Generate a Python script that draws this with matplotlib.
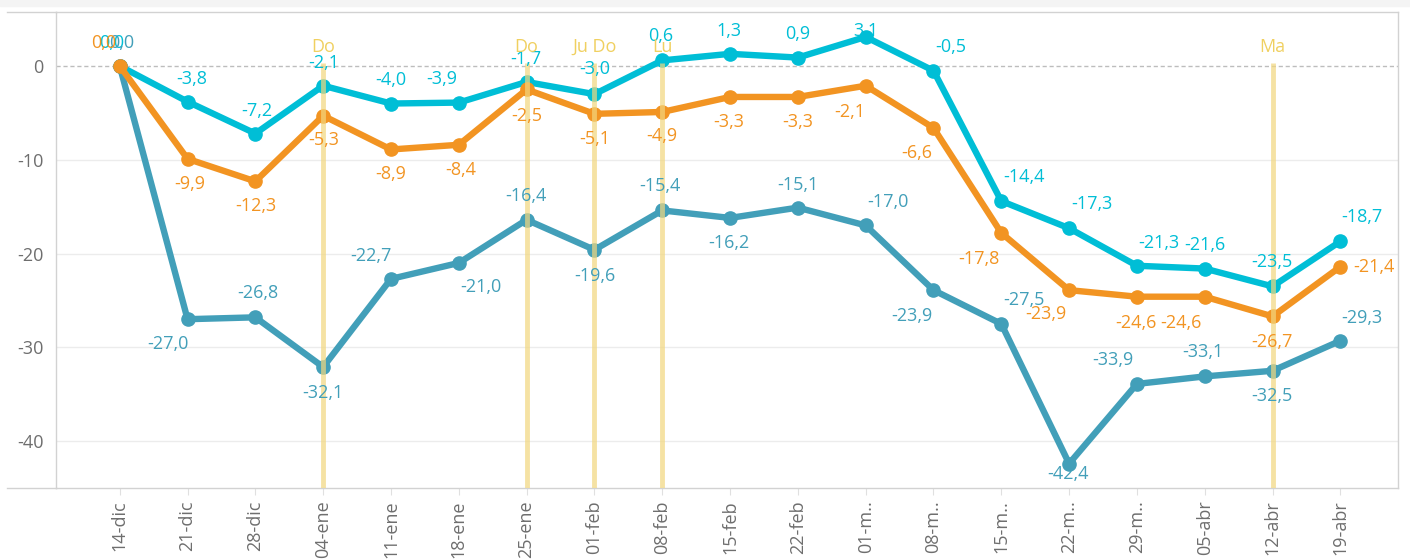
import matplotlib as mpl
mpl.use("Agg")
import matplotlib.pyplot as plt
from matplotlib.lines import Line2D
from matplotlib.patches import Rectangle

plt.rcParams["font.family"] = ["Open Sans", "DejaVu Sans"]

WEEKS = ["14-dic", "21-dic", "28-dic", "04-ene", "11-ene", "18-ene", "25-ene",
         "01-feb", "08-feb", "15-feb", "22-feb", "01-m..", "08-m..", "15-m..",
         "22-m..", "29-m..", "05-abr", "12-abr", "19-abr"]

CYAN = [0.0, -3.8, -7.2, -2.1, -4.0, -3.9, -1.7, -3.0, 0.6, 1.3, 0.9, 3.1,
        -0.5, -14.4, -17.3, -21.3, -21.6, -23.5, -18.7]
ORANGE = [0.0, -9.9, -12.3, -5.3, -8.9, -8.4, -2.5, -5.1, -4.9, -3.3, -3.3, -2.1,
          -6.6, -17.8, -23.9, -24.6, -24.6, -26.7, -21.4]
TEAL = [0.0, -27.0, -26.8, -32.1, -22.7, -21.0, -16.4, -19.6, -15.4, -16.2, -15.1,
        -17.0, -23.9, -27.5, -42.4, -33.9, -33.1, -32.5, -29.3]

# holiday markers: week index and its tag
EVENT_IDX = [3, 6, 7, 8, 17]
EVENT_TAGS = ["Do", "Do", "Ju Do", "Lu", "Ma"]

# label placement (dx, dy) in pixels, y up
CYAN_OFF = [(-8, 23), (4, 23), (1, 23), (1, 23), (0, 24), (-17, 24), (-1, 23),
            (0, 25), (-2, 24), (-1, 23), (0, 24), (0, 6), (17, 24), (23, 24),
            (23, 24), (22, 23), (0, 24), (-1, 24), (22, 24)]
ORANGE_OFF = [(-16, 23), (2, -25), (1, -25), (1, -24), (0, -25), (2, -25),
              (0, -27), (0, -25), (0, -24), (-1, -25), (0, -25), (-16, -26),
              (-17, -25), (-22, -26), (-23, -24), (-1, -26), (-24, -26),
              (-1, -26), (34, 0)]
TEAL_OFF = [(2, 23), (-20, -25), (2, 24), (0, -26), (-20, 23), (22, -24),
            (-1, 24), (0, -26), (-2, 24), (-1, -25), (0, 23), (22, 23),
            (-22, -26), (23, 24), (-1, -10), (-24, 24), (-2, 24), (-1, -25),
            (22, 23)]

C_CYAN = "#00bed6"
C_ORANGE = "#f29422"
C_TEAL = "#429fb9"
C_EVENT = "#f2d77e"
C_EVENT_TXT = "#f0d060"
C_GRID = "#ececec"
C_FRAME = "#d2d2d2"
C_TICK = "#6e6e6e"

FS = 13


def fmt(v):
	return ("%.1f" % v).replace(".", ",")


def draw_series(ax, ys, color, offsets, z):
	xs = range(len(ys))
	ax.plot(xs, ys, color=color, lw=4.6, marker="o", ms=9.5,
		solid_capstyle="round", solid_joinstyle="round", zorder=z)
	for x, y, (dx, dy) in zip(xs, ys, offsets):
		ax.annotate(fmt(y), (x, y), xytext=(dx, dy), textcoords="offset pixels",
			ha="center", va="center", fontsize=FS, color=color, zorder=z + 10)


def main():
	fig = plt.figure(figsize=(14.1, 5.59), dpi=100)
	ax = fig.add_axes([56 / 1410, 71 / 559, 1342 / 1410, 476 / 559])

	# top band
	fig.patches.append(Rectangle((0, 553 / 559), 1, 6 / 559, transform=fig.transFigure,
		color="#f4f4f4", zorder=0))

	ax.set_xlim(-0.94, 18.85)
	ax.set_ylim(-45.0, 5.76)

	for v in [-10, -20, -30, -40]:
		ax.axhline(v, color=C_GRID, lw=1.0, zorder=1)
	ax.axhline(0, color="#bdbdbd", lw=1.0, ls=(0, (3, 2)), zorder=1)

	draw_series(ax, CYAN, C_CYAN, CYAN_OFF, 3)
	draw_series(ax, TEAL, C_TEAL, TEAL_OFF, 4)
	draw_series(ax, ORANGE, C_ORANGE, ORANGE_OFF, 5)

	ylo = ax.get_ylim()[0]
	for i, tag in zip(EVENT_IDX, EVENT_TAGS):
		ax.vlines(i, ylo, 0.3, color=C_EVENT, lw=3.5, alpha=0.7, zorder=8)
		ax.annotate(tag, (i, 0), xytext=(0, 19), textcoords="offset pixels",
			ha="center", va="center", fontsize=FS, color=C_EVENT_TXT, zorder=20)

	ax.set_xticks(range(len(WEEKS)))
	ax.set_xticklabels(WEEKS, rotation=90, fontsize=FS, color=C_TICK)
	ax.set_yticks([0, -10, -20, -30, -40])
	ax.set_yticklabels(["0", "-10", "-20", "-30", "-40"], fontsize=FS, color=C_TICK)
	ax.tick_params(axis="x", length=5, color="#e0e0e0", pad=4)
	ax.tick_params(axis="y", length=0, pad=9)

	for s in ax.spines.values():
		s.set_color(C_FRAME)
		s.set_linewidth(1.0)

	# frame lines run past the y axis on the left
	for yy in (12, 488):
		fig.add_artist(Line2D([7 / 1410, 56 / 1410], [1 - yy / 559, 1 - yy / 559],
			transform=fig.transFigure, color=C_FRAME, lw=1.0))

	fig.savefig("out.png", dpi=100, facecolor="white")


if __name__ == "__main__":
	main()
